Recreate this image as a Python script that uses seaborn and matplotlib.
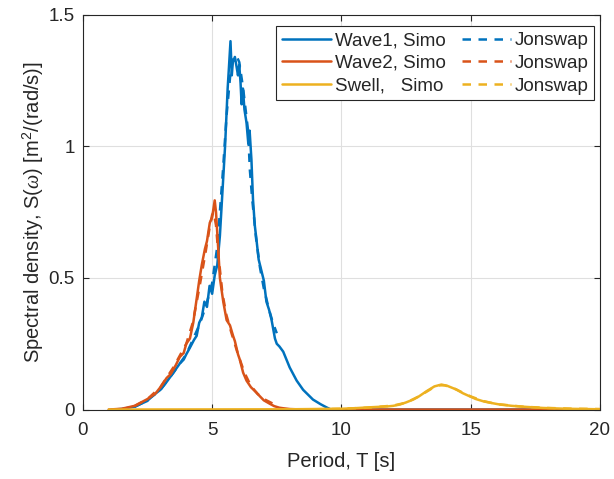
import numpy as np
import pandas as pd
import matplotlib
matplotlib.use("Agg")
import matplotlib.pyplot as plt
import seaborn as sns

# ---- data ----
wave1_T = [1.1, 1.5, 2.0, 2.5, 2.6, 3.0, 3.24, 3.5, 3.75, 3.9, 4.0, 4.14, 4.3, 4.4, 4.5, 4.6,
           4.7, 4.8, 4.9, 5.0, 5.1, 5.2, 5.3, 5.4, 5.5, 5.6, 5.65, 5.71, 5.76, 5.8, 5.88,
           5.95, 6.0, 6.05, 6.1, 6.14, 6.19, 6.25, 6.33, 6.4, 6.45, 6.52, 6.58, 6.65, 6.71,
           6.8, 6.9, 7.0, 7.1, 7.2, 7.3, 7.43, 7.5, 7.6, 7.75, 8.0, 8.27, 8.52, 8.9, 9.2,
           9.43, 9.6, 12.0, 20.0]
wave1_S = [0.0, 0.002, 0.011, 0.033, 0.045, 0.075, 0.105, 0.14, 0.175, 0.19, 0.21, 0.235,
           0.265, 0.28, 0.33, 0.35, 0.41, 0.39, 0.47, 0.44, 0.51, 0.55, 0.66, 0.83, 1.0,
           1.22, 1.30, 1.40, 1.27, 1.32, 1.34, 1.30, 1.27, 1.31, 1.24, 1.16, 1.22, 1.14,
           1.09, 1.01, 1.06, 0.95, 0.80, 0.70, 0.65, 0.57, 0.53, 0.49, 0.41, 0.38, 0.34,
           0.27, 0.25, 0.24, 0.22, 0.16, 0.11, 0.075, 0.038, 0.02, 0.008, 0.0, 0.0, 0.0]

wave2_T = [1.0, 1.5, 2.0, 2.5, 2.8, 3.0, 3.24, 3.4, 3.6, 3.75, 3.9, 4.0, 4.14, 4.27, 4.4,
           4.5, 4.6, 4.72, 4.8, 4.91, 5.0, 5.1, 5.15, 5.23, 5.3, 5.43, 5.56, 5.69, 5.81,
           5.88, 6.0, 6.07, 6.2, 6.33, 6.5, 6.72, 6.85, 7.0, 7.23, 7.4, 7.6, 7.74, 8.0,
           8.5, 20.0]
wave2_S = [0.0, 0.003, 0.014, 0.04, 0.06, 0.085, 0.12, 0.135, 0.17, 0.2, 0.215, 0.25,
           0.27, 0.33, 0.42, 0.49, 0.55, 0.61, 0.64, 0.71, 0.73, 0.795, 0.75, 0.62, 0.50,
           0.41, 0.34, 0.32, 0.28, 0.26, 0.21, 0.19, 0.14, 0.11, 0.085, 0.064, 0.05,
           0.035, 0.022, 0.013, 0.007, 0.005, 0.002, 0.0, 0.0]

swell_T = [1.0, 5.0, 8.0, 9.0, 10.0, 10.5, 11.0, 11.4, 11.8, 12.0, 12.26, 12.5, 12.78,
           13.0, 13.3, 13.6, 13.87, 14.1, 14.45, 14.7, 14.97, 15.2, 15.5, 15.8, 16.13,
           16.6, 17.16, 17.8, 18.7, 19.4, 20.0]
swell_S = [0.0, 0.0005, 0.001, 0.002, 0.003, 0.005, 0.008, 0.01, 0.012, 0.014, 0.019,
           0.027, 0.038, 0.05, 0.07, 0.088, 0.095, 0.09, 0.076, 0.062, 0.05, 0.04, 0.031,
           0.025, 0.019, 0.014, 0.01, 0.006, 0.003, 0.002, 0.001]

jw1_T = [2.0, 2.5, 3.0, 3.5, 4.0, 4.5, 4.75, 5.0, 5.2, 5.42, 5.56, 5.7, 5.8, 5.94, 6.05,
         6.2, 6.39, 6.46, 6.55, 6.7, 6.85, 7.0, 7.2, 7.35, 7.5]
jw1_S = [0.01, 0.035, 0.075, 0.14, 0.21, 0.32, 0.39, 0.48, 0.62, 0.91, 1.12, 1.27, 1.33,
         1.345, 1.32, 1.22, 1.06, 0.91, 0.80, 0.65, 0.54, 0.46, 0.38, 0.33, 0.29]

jw2_T = [2.0, 2.5, 3.0, 3.5, 4.0, 4.25, 4.5, 4.75, 4.9, 5.0, 5.06, 5.15, 5.25, 5.4, 5.55,
         5.75, 6.0, 6.25, 6.5, 6.75, 7.0, 7.5]
jw2_S = [0.013, 0.04, 0.085, 0.16, 0.25, 0.33, 0.46, 0.60, 0.69, 0.74, 0.75, 0.70, 0.58,
         0.44, 0.36, 0.29, 0.21, 0.14, 0.09, 0.06, 0.04, 0.015]

jw3_T = [9.0, 10.0, 11.0, 12.0, 12.5, 13.0, 13.5, 13.8, 14.0, 14.3, 14.7, 15.0, 15.5,
         16.0, 17.0, 18.0, 19.0, 20.0]
jw3_S = [0.001, 0.003, 0.007, 0.015, 0.026, 0.05, 0.08, 0.092, 0.092, 0.083, 0.064, 0.05,
         0.032, 0.021, 0.011, 0.006, 0.003, 0.002]

x_ticks = [0, 5, 10, 15, 20]
y_ticks = [0, 0.5, 1, 1.5]
y_tick_labels = ["0", "0.5", "1", "1.5"]

# ---- styling ----
sns.set_style("white")
plt.rcParams["font.family"] = ["Liberation Sans", "DejaVu Sans"]
plt.rcParams["mathtext.fontset"] = "custom"
plt.rcParams["mathtext.rm"] = "Liberation Sans"
plt.rcParams["mathtext.it"] = "Liberation Serif:italic"

C1, C2, C3 = "#0072BD", "#D95319", "#EDB120"
txt = "#262626"

fig = plt.figure(figsize=(6.14, 4.79), dpi=100)
ax = fig.add_axes([0.135, 0.145, 0.842, 0.824])

lw = 1.8
series = [
    (wave1_T, wave1_S, C1, "-", "Wave1, Simo"),
    (jw1_T, jw1_S, C1, "--", "Jonswap"),
    (wave2_T, wave2_S, C2, "-", "Wave2, Simo"),
    (jw2_T, jw2_S, C2, "--", "Jonswap"),
    (swell_T, swell_S, C3, "-", "Swell,   Simo"),
    (jw3_T, jw3_S, C3, "--", "Jonswap"),
]
handles = {}
for T, S, c, ls, lab in series:
    df = pd.DataFrame({"T": T, "S": S})
    sns.lineplot(data=df, x="T", y="S", ax=ax, color=c, linestyle=ls, linewidth=lw,
                 errorbar=None, estimator=None, sort=False)
    line = ax.lines[-1]
    if ls == "--":
        line.set_dashes([3.4, 3.0])
    handles[(c, ls)] = line

ax.set_xlim(0, 20)
ax.set_ylim(0, 1.5)
ax.set_xticks(x_ticks)
ax.set_xticklabels([str(v) for v in x_ticks])
ax.set_yticks(y_ticks)
ax.set_yticklabels(y_tick_labels)
ax.grid(True, color="#dfdfdf", linewidth=0.8)
ax.set_axisbelow(True)
for s in ax.spines.values():
    s.set_color(txt)
    s.set_linewidth(0.8)
ax.tick_params(direction="in", length=4, width=0.8, colors=txt, labelsize=13.5,
               top=True, right=True, bottom=True, left=True)
ax.tick_params(axis="x", pad=9)
ax.tick_params(axis="y", pad=6)

ax.set_xlabel("Period, T [s]", fontsize=14.5, color=txt, labelpad=9)
ax.set_ylabel(r"Spectral density, S($\omega$) [m$^2$/(rad/s)]", fontsize=14.5,
              color=txt, labelpad=2)

order = [(C1, "-"), (C2, "-"), (C3, "-"), (C1, "--"), (C2, "--"), (C3, "--")]
labels = ["Wave1, Simo", "Wave2, Simo", "Swell,   Simo", "Jonswap", "Jonswap", "Jonswap"]
leg = ax.legend([handles[k] for k in order], labels, ncol=2, loc="upper right",
                bbox_to_anchor=(1.0, 0.985), fontsize=13.5, frameon=True, fancybox=False,
                framealpha=1, edgecolor=txt, handlelength=2.6, handletextpad=0.2,
                columnspacing=0.9, labelspacing=0.3, borderpad=0.3, borderaxespad=0.3)
leg.get_frame().set_linewidth(0.8)
for t in leg.get_texts():
    t.set_color(txt)

fig.savefig("out.png", dpi=100)
